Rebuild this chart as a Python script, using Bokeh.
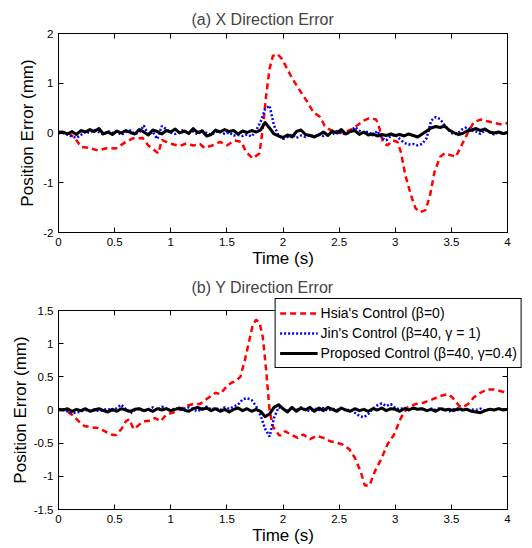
import numpy as np
from bokeh.plotting import figure
from bokeh.models import Range1d, LinearAxis, FixedTicker, Legend, LegendItem, CustomJSTickFormatter
from bokeh.layouts import column
from bokeh.embed import file_html
from bokeh.resources import INLINE

FONT = "Liberation Sans"

# ---------------- data ----------------
t_grid = [round(i * 0.04, 2) for i in range(101)]

# (a) X direction
x_hsia_t = [0, 0.05, 0.1, 0.15, 0.2, 0.27, 0.35, 0.44, 0.51, 0.6, 0.66, 0.75, 0.8, 0.89, 0.92,
            0.99, 1.08, 1.14, 1.2, 1.26, 1.3, 1.37, 1.44, 1.5, 1.57, 1.63, 1.67, 1.73, 1.79, 1.82,
            1.85, 1.88, 1.91, 1.95, 1.99, 2.07, 2.13, 2.21, 2.27, 2.33, 2.37, 2.4, 2.45, 2.5, 2.55,
            2.6, 2.66, 2.72, 2.77, 2.83, 2.86, 2.89, 2.93, 2.98, 3.02, 3.05, 3.09, 3.14, 3.18, 3.22,
            3.27, 3.31, 3.35, 3.4, 3.44, 3.5, 3.54, 3.59, 3.65, 3.7, 3.76, 3.85, 3.95, 4.0]
x_hsia = [0.03, 0.01, -0.02, -0.11, -0.28, -0.3, -0.35, -0.3, -0.31, -0.18, -0.11, -0.1, -0.25, -0.41, -0.14,
          -0.21, -0.26, -0.21, -0.25, -0.22, -0.3, -0.25, -0.18, -0.25, -0.15, -0.18, -0.38, -0.51, -0.41, 0.09,
          0.75, 1.29, 1.55, 1.59, 1.49, 1.15, 0.92, 0.65, 0.42, 0.32, 0.15, 0.09, 0.03, 0.0, 0.02,
          0.06, 0.15, 0.25, 0.3, 0.27, 0.09, -0.18, -0.25, -0.15, -0.18, -0.38, -0.85, -1.25, -1.51, -1.59,
          -1.55, -1.25, -0.78, -0.48, -0.41, -0.45, -0.48, -0.25, 0.02, 0.22, 0.27, 0.22, 0.17, 0.2]

x_jin = [0.02, 0.00, -0.03, -0.07, -0.10, -0.04, 0.03, 0.00, 0.06, 0.02,
         -0.03, 0.04, 0.00, 0.03, -0.04, 0.02, 0.05, -0.02, 0.01, 0.15,
         -0.03, 0.02, -0.12, 0.14, 0.08, 0.01, -0.02, 0.04, 0.06, 0.00,
         0.03, -0.03, 0.05, 0.00, -0.04, 0.02, 0.04, -0.02, 0.01, -0.05,
         -0.04, -0.06, -0.03, -0.07, 0.05, 0.22, 0.48, 0.55, 0.15, -0.05,
         -0.12, -0.08, -0.03, -0.10, -0.05, -0.08, -0.04, -0.07, -0.02, -0.06,
         0.00, -0.03, 0.04, 0.00, -0.03, 0.02, 0.12, 0.05, 0.00, 0.03,
         -0.05, 0.04, -0.10, -0.15, -0.06, -0.03, -0.12, -0.20, -0.23, -0.22,
         -0.25, -0.22, -0.10, 0.25, 0.32, 0.28, 0.15, 0.05, -0.03, 0.00,
         0.08, 0.12, 0.05, 0.03, -0.02, 0.06, 0.02, -0.03, 0.01, -0.01, 0.00]

x_prop = [0.00, 0.02, -0.02, 0.03, -0.03, 0.05, 0.02, 0.07, 0.03, 0.09,
          -0.02, 0.02, -0.03, 0.04, 0.00, 0.05, 0.01, -0.02, 0.07, 0.02,
          -0.04, 0.06, 0.03, -0.02, 0.05, 0.02, 0.08, 0.00, 0.04, -0.01,
          0.09, 0.01, 0.04, -0.06, -0.03, 0.06, 0.02, 0.07, 0.03, 0.05,
          -0.02, 0.04, 0.01, 0.05, 0.02, 0.06, 0.21, 0.10, -0.02, -0.06,
          -0.09, -0.04, -0.08, 0.03, 0.06, -0.03, -0.05, -0.08, -0.04, 0.02,
          -0.05, 0.04, 0.00, 0.07, -0.02, 0.03, 0.05, -0.03, 0.02, -0.04,
          -0.02, -0.06, -0.03, -0.05, -0.02, -0.05, -0.03, -0.06, -0.02, -0.05,
          -0.08, -0.02, 0.04, 0.10, 0.13, 0.11, 0.14, 0.06, 0.01, -0.03,
          -0.01, 0.04, 0.06, 0.09, 0.05, 0.08, 0.02, 0.00, 0.02, -0.01, 0.01]

# (b) Y direction
y_hsia_t = [0, 0.06, 0.12, 0.18, 0.23, 0.29, 0.35, 0.41, 0.47, 0.51, 0.56, 0.6, 0.63, 0.67, 0.72,
            0.76, 0.82, 0.86, 0.91, 0.96, 1.02, 1.08, 1.14, 1.2, 1.26, 1.3, 1.34, 1.4, 1.44, 1.5,
            1.54, 1.58, 1.62, 1.66, 1.7, 1.73, 1.76, 1.79, 1.82, 1.85, 1.88, 1.91, 1.97, 2.02, 2.07,
            2.13, 2.18, 2.24, 2.3, 2.36, 2.42, 2.47, 2.53, 2.59, 2.64, 2.69, 2.73, 2.77, 2.82, 2.88,
            2.93, 2.99, 3.05, 3.11, 3.18, 3.25, 3.33, 3.4, 3.47, 3.51, 3.57, 3.6, 3.65, 3.7, 3.76,
            3.82, 3.88, 3.95, 4.0]
y_hsia = [0.0, 0.0, -0.07, -0.17, -0.24, -0.26, -0.27, -0.32, -0.37, -0.38, -0.29, -0.17, -0.14, -0.29, -0.22,
          -0.17, -0.16, -0.12, -0.17, -0.07, -0.04, 0.01, 0.06, 0.09, 0.09, 0.14, 0.19, 0.26, 0.24, 0.36,
          0.41, 0.44, 0.5, 0.75, 1.05, 1.28, 1.36, 1.32, 1.1, 0.6, 0.0, -0.25, -0.39, -0.32, -0.37,
          -0.42, -0.37, -0.44, -0.39, -0.42, -0.47, -0.49, -0.52, -0.59, -0.72, -0.92, -1.14, -1.14, -0.92, -0.72,
          -0.52, -0.37, -0.12, 0.04, 0.09, 0.11, 0.16, 0.21, 0.24, 0.19, 0.06, 0.04, 0.09, 0.19, 0.26,
          0.31, 0.31, 0.28, 0.25]

y_jin = [0.00, 0.01, -0.02, -0.05, -0.04, -0.02, 0.00, -0.01, 0.01, -0.02,
         0.00, 0.02, -0.01, 0.03, 0.08, 0.01, -0.05, 0.00, 0.02, -0.02,
         0.01, 0.04, 0.00, 0.05, 0.02, -0.01, 0.03, 0.00, 0.02, 0.04,
         0.01, -0.02, 0.02, 0.05, 0.01, 0.03, 0.00, 0.04, 0.02, 0.05,
         0.08, 0.16, 0.18, 0.15, 0.06, -0.08, -0.28, -0.40, -0.12, 0.04,
         0.02, -0.01, 0.03, 0.00, 0.04, 0.01, -0.02, 0.02, 0.00, 0.03,
         -0.01, 0.02, 0.00, 0.03, -0.01, 0.01, -0.04, -0.09, -0.11, -0.06,
         0.02, 0.07, 0.10, 0.06, 0.09, 0.03, 0.01, 0.04, 0.00, 0.03,
         0.01, 0.02, -0.01, 0.02, 0.00, 0.03, 0.01, -0.02, 0.01, 0.00,
         0.02, -0.01, 0.01, 0.00, 0.02, -0.01, 0.01, 0.00, 0.02, 0.01, 0.00]

y_prop = [0.01, 0.00, 0.02, -0.02, 0.01, -0.01, 0.02, -0.02, 0.00, 0.02,
          -0.01, -0.03, 0.01, -0.02, 0.02, 0.00, -0.02, 0.01, 0.02, -0.01,
          0.01, -0.02, 0.02, 0.00, 0.02, -0.01, 0.01, 0.03, 0.00, -0.02,
          0.02, 0.04, 0.01, 0.03, -0.01, 0.02, -0.02, 0.01, -0.03, 0.01,
          0.03, -0.01, 0.02, -0.02, 0.01, -0.02, -0.10, -0.06, 0.04, 0.08,
          0.02, -0.03, 0.04, -0.02, 0.03, 0.00, 0.04, -0.02, 0.03, -0.01,
          0.04, 0.01, -0.02, 0.03, 0.00, -0.02, 0.02, -0.01, 0.01, -0.02,
          0.02, 0.00, 0.03, -0.01, 0.02, 0.01, -0.02, 0.02, 0.00, 0.03,
          0.01, 0.02, -0.01, 0.01, -0.02, 0.02, 0.00, 0.01, -0.01, 0.02,
          0.00, 0.01, -0.02, -0.03, -0.04, -0.01, 0.01, 0.00, 0.02, 0.00, 0.01]

x_ticks = [0, 0.5, 1, 1.5, 2, 2.5, 3, 3.5, 4]
ya_ticks = [-2, -1, 0, 1, 2]
yb_ticks = [-1.5, -1, -0.5, 0, 0.5, 1, 1.5]

labels = ["Hsia's Control (\u03b2=0)",
          "Jin's Control (\u03b2=40, \u03b3 = 1)",
          "Proposed Control (\u03b2=40, \u03b3=0.4)"]

RED = dict(line_color="#ff0000", line_width=2.5, line_dash="6 4")
BLUE = dict(line_color="#0000ff", line_width=2.5, line_dash="2 2")
BLACK = dict(line_color="black", line_width=3, line_join="round")

fmt = CustomJSTickFormatter(code="return tick.toString();")

W = 524


def style_axis(ax, ticks, show_labels=True, standoff=5):
    ax.ticker = FixedTicker(ticks=ticks)
    ax.formatter = fmt
    ax.major_tick_in = 5
    ax.major_tick_out = 0
    ax.minor_tick_line_color = None
    ax.axis_line_color = "black"
    ax.major_tick_line_color = "black"
    ax.major_label_text_font = FONT
    ax.axis_label_text_font = FONT
    ax.axis_label_text_font_size = "17px"
    ax.axis_label_text_font_style = "normal"
    ax.axis_label_text_color = "black"
    if show_labels:
        ax.major_label_text_color = "black"
        ax.major_label_text_font_size = "11.5px"
        ax.major_label_standoff = standoff
    else:
        ax.major_label_text_color = None
        ax.major_label_text_font_size = "1px"
        ax.major_label_standoff = 0


def make_fig(title, yr, yticks, height, border_top, border_bottom, title_standoff, ylabel_standoff):
    p = figure(width=W, height=height, x_range=Range1d(0, 4), y_range=Range1d(*yr),
               output_backend="svg", toolbar_location=None,
               min_border_left=58, min_border_right=17,
               min_border_top=border_top, min_border_bottom=border_bottom)
    p.title.text = title
    p.title.text_font = FONT
    p.title.text_font_size = "16px"
    p.title.text_font_style = "normal"
    p.title.align = "left"
    p.title.offset = 133
    p.title.standoff = title_standoff
    p.xgrid.visible = False
    p.ygrid.visible = False
    p.outline_line_color = "black"
    p.outline_line_alpha = 1
    p.background_fill_color = "white"
    p.xaxis.axis_label = "Time (s)"
    p.yaxis.axis_label = "Position Error (mm)"
    style_axis(p.xaxis[0], x_ticks, True, 5)
    p.xaxis[0].axis_label_standoff = 0
    style_axis(p.yaxis[0], yticks, True, 5)
    p.yaxis[0].axis_label_standoff = ylabel_standoff
    top = LinearAxis()
    style_axis(top, x_ticks, False)
    right = LinearAxis()
    style_axis(right, yticks, False)
    p.add_layout(top, "above")
    p.add_layout(right, "right")
    return p


def draw(p, th, yh, yj, yp):
    r1 = p.line(th, yh, **RED)
    r2 = p.line(t_grid, yj, **BLUE)
    r3 = p.line(t_grid, yp, **BLACK)
    return r1, r2, r3


H1 = 270
p1 = make_fig("(a) X Direction Error", (-2, 2), ya_ticks, H1, 33, 37, 11, 3)
draw(p1, x_hsia_t, x_hsia, x_jin, x_prop)

OV = 10            # lower panel's empty top border slides under the upper panel's bottom
H2 = 50 + 201 + 36
p2 = make_fig("(b) Y Direction Error", (-1.5, 1.5), yb_ticks, H2, 50, 36, 30, 1)
p2.border_fill_color = None
p2.margin = (-OV, 0, 0, 0)
draw(p2, y_hsia_t, y_hsia, y_jin, y_prop)

layout = column(p1, p2, spacing=0)

# legend box: a separate root laid over the top-right corner of the lower axes
# (in the reference it sticks out of the axes box above and to the right)
H3 = 74
p3 = figure(width=W, height=H3, x_range=Range1d(0, 1), y_range=Range1d(0, 1),
            output_backend="svg", toolbar_location=None,
            x_axis_location=None, y_axis_location=None,
            min_border_left=0, min_border_right=0, min_border_top=0, min_border_bottom=0)
p3.xgrid.visible = False
p3.ygrid.visible = False
p3.outline_line_color = None
p3.background_fill_color = None
p3.border_fill_color = None
g1 = p3.line([5, 6], [5, 5], **RED)
g2 = p3.line([5, 6], [5, 5], **BLUE)
g3 = p3.line([5, 6], [5, 5], **BLACK)
legend = Legend(items=[LegendItem(label=labels[0], renderers=[g1]),
                       LegendItem(label=labels[1], renderers=[g2]),
                       LegendItem(label=labels[2], renderers=[g3])],
                location="top_right")
legend.label_text_font = FONT
legend.label_text_font_size = "14px"
legend.label_text_color = "black"
legend.glyph_width = 38
legend.glyph_height = 20
legend.label_height = 20
legend.label_standoff = 3
legend.spacing = 0
legend.padding = 4
legend.margin = 2
legend.border_line_color = "black"
legend.border_line_width = 1
legend.border_line_alpha = 1
legend.background_fill_color = "white"
legend.background_fill_alpha = 1
p3.add_layout(legend, "center")
p3.margin = (296 - (H1 - OV + H2), 0, 0, 0)

open("out.html", "w").write(file_html([layout, p3], INLINE))
